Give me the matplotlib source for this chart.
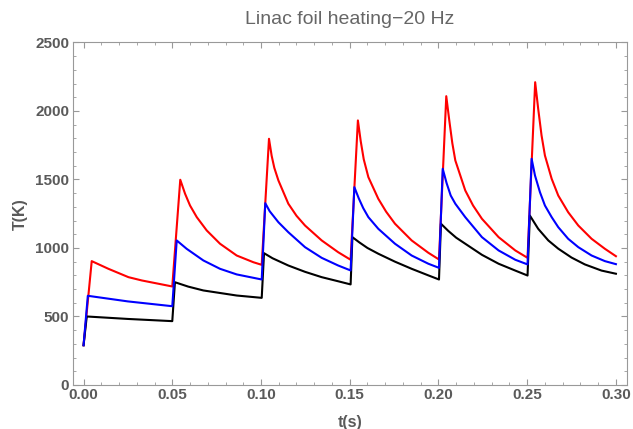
import matplotlib
matplotlib.use('Agg')
import matplotlib.pyplot as plt
from matplotlib.ticker import MultipleLocator

# tempo (s) e temperatura (K)
t_red = [0.0, 0.0046, 0.014, 0.0253, 0.0328, 0.050,
         0.0545, 0.0572, 0.060, 0.0638, 0.0694, 0.0769, 0.0863, 0.0957, 0.1004,
         0.1045, 0.106, 0.1075, 0.1098, 0.1154, 0.120, 0.1248, 0.1342, 0.1435, 0.1505,
         0.1546, 0.1562, 0.1579, 0.1605, 0.1661, 0.1705, 0.1755, 0.1849, 0.1943, 0.2003,
         0.2044, 0.2061, 0.2078, 0.2095, 0.2151, 0.2195, 0.2245, 0.2339, 0.2433, 0.2502,
         0.2545, 0.2562, 0.2581, 0.260, 0.2638, 0.2675, 0.2731, 0.2788, 0.2863, 0.2938, 0.300]
T_red = [290, 904, 848, 787, 763, 719,
         1498, 1396, 1310, 1225, 1128, 1031, 945, 896, 877,
         1797, 1673, 1585, 1493, 1323, 1235, 1164, 1055, 969, 914,
         1931, 1779, 1647, 1517, 1359, 1265, 1177, 1055, 965, 916,
         2108, 1931, 1766, 1639, 1420, 1310, 1213, 1079, 982, 928,
         2210, 2016, 1821, 1675, 1505, 1383, 1261, 1164, 1067, 994, 940]

t_blue = [0.0, 0.0024, 0.025, 0.050,
          0.0525, 0.0581, 0.0675, 0.0769, 0.0863, 0.1004,
          0.1024, 0.1049, 0.1098, 0.1154, 0.1248, 0.1342, 0.1435, 0.1505,
          0.1526, 0.1551, 0.1576, 0.1605, 0.1661, 0.1755, 0.1849, 0.1943, 0.2003,
          0.2024, 0.2046, 0.2069, 0.2095, 0.2151, 0.2245, 0.2339, 0.2433, 0.2502,
          0.2525, 0.2544, 0.2572, 0.260, 0.2638, 0.2675, 0.2731, 0.2788, 0.2863, 0.2938, 0.300]
T_blue = [290, 651, 610, 575,
          1055, 994, 909, 848, 807, 770,
          1327, 1268, 1188, 1115, 1006, 928, 872, 836,
          1444, 1362, 1291, 1225, 1140, 1031, 945, 885, 855,
          1578, 1473, 1383, 1323, 1225, 1079, 982, 914, 880,
          1651, 1529, 1407, 1310, 1225, 1152, 1067, 1006, 945, 904, 882]

t_black = [0.0, 0.0018, 0.025, 0.050,
           0.0515, 0.059, 0.0675, 0.0863, 0.1004,
           0.1017, 0.1065, 0.1154, 0.1248, 0.1342, 0.1435, 0.1505,
           0.1515, 0.1555, 0.160, 0.1661, 0.1755, 0.1849, 0.1943, 0.2003,
           0.2014, 0.2055, 0.210, 0.2151, 0.2245, 0.2339, 0.2433, 0.2502,
           0.2515, 0.2562, 0.2619, 0.2675, 0.275, 0.2825, 0.2919, 0.300]
T_black = [290, 500, 482, 466,
           750, 718, 690, 653, 636,
           962, 925, 872, 826, 787, 757, 734,
           1079, 1040, 1000, 958, 900, 848, 800, 770,
           1177, 1125, 1075, 1031, 950, 885, 835, 799,
           1237, 1140, 1055, 995, 930, 880, 835, 812]

grigio = '#5a5a5a'
plt.rcParams['font.family'] = ['Liberation Sans', 'DejaVu Sans']

fig = plt.figure(figsize=(6.33, 4.29), dpi=100)
ax = fig.add_axes([0.1149, 0.1026, 0.8752, 0.7984])

ax.plot(t_red, T_red, color='#ff0000', lw=1.5)
ax.plot(t_black, T_black, color='black', lw=1.5)
ax.plot(t_blue, T_blue, color='#0000ff', lw=1.5)

ax.set_xlim(-0.0061, 0.3061)
ax.set_ylim(0, 2500)
ax.xaxis.set_major_locator(MultipleLocator(0.05))
ax.xaxis.set_minor_locator(MultipleLocator(0.01))
ax.yaxis.set_major_locator(MultipleLocator(500))
ax.yaxis.set_minor_locator(MultipleLocator(100))
ax.xaxis.set_major_formatter(lambda v, p: f'{v:.2f}')

for s in ax.spines.values():
    s.set_color('#999999')
ax.tick_params(which='both', direction='in', top=True, right=True, color='#999999')
ax.tick_params(which='major', length=4.5, labelsize=11, labelcolor=grigio, pad=2.5)
ax.tick_params(which='minor', length=2.5)
for lab in ax.get_xticklabels() + ax.get_yticklabels():
    lab.set_fontweight('bold')

ax.set_xlabel('t(s)', fontsize=11.5, fontweight='bold', color=grigio, labelpad=9)
ax.set_ylabel('T(K)', fontsize=11.5, fontweight='bold', color=grigio, labelpad=5)
ax.set_title('Linac foil heating\u221220 Hz', fontsize=14, color='#666666', pad=13)

fig.savefig('out.png', dpi=100)
